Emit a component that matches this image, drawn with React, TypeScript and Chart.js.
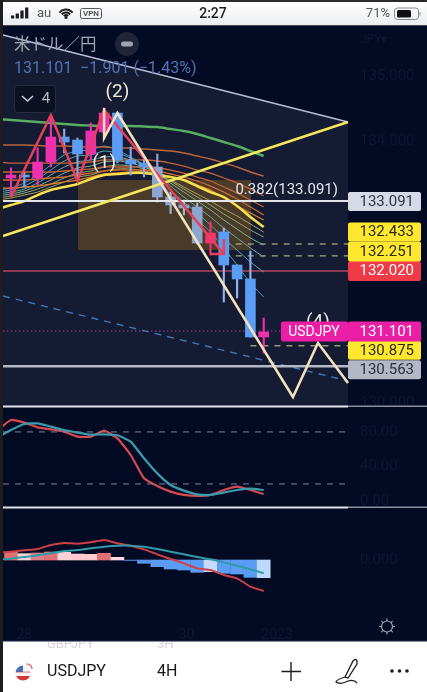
import React, { useEffect, useRef } from "react";
import { Chart, registerables } from "chart.js";

Chart.register(...registerables);

// ---------- data ----------
const barIndex = [0, 1, 2, 3, 4, 5, 6, 7, 8, 9, 10, 11, 12, 13, 14, 15, 16, 17, 18, 19];
const opens = [133.443, 133.489, 133.443, 133.688, 134.07, 134.024, 133.81, 134.147, 134.437, 133.718, 133.672, 133.611, 133.152, 133.03, 132.999, 132.448, 132.617, 132.112, 131.898, 131.01];
const closes = [133.489, 133.458, 133.688, 134.07, 133.994, 133.81, 134.162, 134.437, 133.718, 133.657, 133.611, 133.152, 133.03, 132.984, 132.448, 132.601, 132.112, 131.898, 131.01, 131.087];
const highs = [133.596, 133.535, 133.902, 134.376, 134.193, 134.055, 134.284, 134.514, 134.453, 133.917, 133.764, 133.81, 133.229, 133.106, 133.06, 132.77, 132.678, 132.112, 132.326, 131.301];
const lows = [133.152, 133.305, 133.336, 133.611, 133.825, 133.412, 133.718, 134.055, 133.672, 133.489, 133.458, 133.076, 132.9, 132.877, 132.433, 132.265, 131.546, 131.607, 131.01, 130.765];

const maIndex = [-1, 0, 1, 2, 3, 4, 5, 6, 7, 8, 9, 10, 11, 12, 13, 14, 15, 16, 17, 18, 19];
const maGreen = [134.345, 134.33, 134.315, 134.3, 134.284, 134.269, 134.254, 134.246, 134.238, 134.238, 134.238, 134.23, 134.223, 134.192, 134.162, 134.116, 134.055, 133.994, 133.933, 133.856, 133.779];
const maOrange1 = [133.947, 133.947, 133.947, 133.94, 133.932, 133.932, 133.925, 133.917, 133.917, 133.902, 133.902, 133.886, 133.871, 133.856, 133.825, 133.779, 133.733, 133.672, 133.611, 133.535, 133.473];
const maOrange2 = [133.688, 133.672, 133.672, 133.672, 133.672, 133.672, 133.672, 133.688, 133.718, 133.718, 133.718, 133.718, 133.703, 133.672, 133.626, 133.565, 133.519, 133.443, 133.366, 133.274, 133.167];
const maOrange3 = [133.535, 133.535, 133.535, 133.535, 133.535, 133.55, 133.565, 133.581, 133.611, 133.611, 133.611, 133.611, 133.596, 133.565, 133.519, 133.458, 133.397, 133.305, 133.213, 133.106, 132.999];
const maOrange4 = [133.412, 133.412, 133.412, 133.427, 133.443, 133.458, 133.489, 133.519, 133.55, 133.565, 133.565, 133.565, 133.55, 133.504, 133.458, 133.397, 133.32, 133.228, 133.121, 132.999, 132.877];
const maOrange5 = [133.29, 133.29, 133.305, 133.32, 133.351, 133.382, 133.412, 133.458, 133.504, 133.519, 133.535, 133.535, 133.519, 133.458, 133.412, 133.336, 133.259, 133.137, 133.014, 132.907, 132.8];
const maYellow = [132.968, 133.03, 133.091, 133.182, 133.259, 133.305, 133.351, 133.427, 133.489, 133.504, 133.519, 133.519, 133.489, 133.458, 133.412, 133.32, 133.228, 133.152, 133.014, 132.846, 132.693];
const maTeal1 = [133.259, 133.29, 133.366, 133.489, 133.642, 133.795, 133.856, 133.871, 133.932, 133.871, 133.764, 133.642, 133.458, 133.182, 132.984, 132.8, 132.616, 132.372, 132.112, 131.837, 131.622];
const maTeal2 = [133.228, 133.259, 133.32, 133.427, 133.565, 133.703, 133.779, 133.795, 133.856, 133.825, 133.749, 133.642, 133.489, 133.259, 133.075, 132.907, 132.724, 132.525, 132.341, 132.158, 132.005];
const maTeal3 = [133.198, 133.228, 133.274, 133.366, 133.489, 133.611, 133.688, 133.718, 133.764, 133.764, 133.718, 133.642, 133.519, 133.32, 133.152, 132.999, 132.846, 132.678, 132.525, 132.372, 132.234];
const maTeal4 = [133.167, 133.198, 133.244, 133.32, 133.412, 133.519, 133.596, 133.626, 133.688, 133.703, 133.672, 133.611, 133.519, 133.366, 133.228, 133.091, 132.953, 132.8, 132.662, 132.525, 132.418];
const maTeal5 = [133.137, 133.167, 133.213, 133.274, 133.351, 133.443, 133.519, 133.55, 133.611, 133.642, 133.626, 133.581, 133.504, 133.397, 133.274, 133.152, 133.03, 132.892, 132.77, 132.647, 132.54];
const maTeal6 = [133.106, 133.137, 133.182, 133.228, 133.305, 133.382, 133.458, 133.489, 133.55, 133.581, 133.581, 133.55, 133.489, 133.412, 133.305, 133.198, 133.091, 132.968, 132.861, 132.739, 132.616];

const waveRedX = [0, 3, 5, 7, 16];
const waveRedY = [133.152, 134.407, 133.397, 134.483, 132.28];
const arrowX = [15, 16, 16];
const arrowY = [132.28, 132.28, 132.509];
const waveCreamX = [7, 7, 8, 21.2, 23.08, 25.34];
const waveCreamY = [134.514, 134.055, 134.437, 130.092, 130.918, 130.306];
const trendX = [-0.6, 25.34];
const trendYellowY = [132.555, 134.299];
const trendGreyY = [135.631, 134.299];
const trendBlueY = [131.637, 130.337];
const boxX = [5.04, 18.05];
const boxTop = 133.412;
const boxBottom = 132.341;
const panelBottom = 129.955;

const fibLevel = 133.091;
const resistLevel = 132.02;
const lastPrice = 131.101;
const supportLevel = 130.563;
const dashUpper = 132.433;
const dashLower = 132.251;
const dashFloor = 130.875;

const rsiIndex = maIndex;
const rsiRed = [82.2, 93.8, 90.7, 85.3, 83, 80.3, 74.5, 74.5, 81.5, 72.6, 53.4, 26.5, 17.6, 11.1, 7.3, 6.1, 7.3, 13, 16.9, 13, 8.4];
const rsiTeal = [73.8, 82.2, 89.2, 89.9, 86.1, 82.2, 79.2, 76.8, 77.2, 76.1, 68.8, 49.6, 32.2, 18.8, 12.3, 8, 7.3, 10, 13, 14.5, 13];
const rsiLevels = [80, 20];

const macdHist = [0.0256, 0.0211, 0.0233, 0.0267, 0.0256, 0.02, 0.0189, 0.0222, 0.0089, -0.0022, -0.0111, -0.0222, -0.03, -0.0333, -0.0411, -0.0389, -0.0444, -0.0467, -0.0578, -0.0589];
const macdRed = [0.0244, 0.0278, 0.0322, 0.0367, 0.05, 0.0567, 0.0544, 0.0589, 0.0667, 0.0556, 0.0478, 0.0356, 0.0189, 0.0033, -0.0111, -0.0278, -0.0333, -0.05, -0.0611, -0.0889, -0.1033];
const macdTeal = [0.0022, 0.0044, 0.01, 0.0156, 0.0222, 0.03, 0.0333, 0.0389, 0.0444, 0.0478, 0.0478, 0.0444, 0.0367, 0.0278, 0.0189, 0.01, 0.0022, -0.0078, -0.0189, -0.0311, -0.0444];

const priceTicks = [135, 134, 130];
const rsiTicks = [80, 40, 0];
const macdTicks = [0];
const dateTickIndex = [1, 13.2, 20];
const dateTickLabels = ["28", "30", "2023"];

// ---------- styles ----------
const PINK = "#ee2fae";
const HOT = "#f5336f";
const BLUE = "#5b9df5";
const DIM = "#8aa7cf";
const bodyColors = [PINK, "#6aa0ee", PINK, PINK, BLUE, BLUE, PINK, PINK, BLUE, BLUE, BLUE, DIM, DIM, DIM, DIM, HOT, BLUE, BLUE, BLUE, PINK];
const wickColors = [PINK, "#7f9ee8", PINK, PINK, "#8fa4ee", "#8fa4d8", PINK, PINK, BLUE, "#8fa4ee", "#8fa4ee", "#8fa4d8", "#a5b4cc", "#a5b4cc", "#a5b4cc", HOT, "#8fb4ee", "#8fb4ee", "#8fb4ee", PINK];
const histColors = ["#e07078", "#ffd3d8", "#d98088", "#e07078", "#ffcfd6", "#ffc9d0", "#ffc9d0", "#e07078", "#ffd9dc", "#3f74c4", "#5b95e8", "#5b9df5", "#5b9df5", "#5b9df5", "#5b9df5", "#c5dcfa", "#5b9df5", "#5b9df5", "#5b9df5", "#bcd8fa"];
const BG = "#030a24";
const PANEL = "#141b32";
const FAINT = "#0f1634";
const UI = "Roboto, 'Noto Sans', sans-serif";
const CJK = "'Noto Sans CJK JP', 'Noto Sans', sans-serif";

const xy = (xs: number[], ys: number[]) => xs.map((x, i) => ({ x, y: ys[i] }));

function line(xs: number[], ys: number[], color: string, width: number, extra: any = {}) {
  return {
    type: "line",
    data: xy(xs, ys),
    borderColor: color,
    borderWidth: width,
    pointRadius: 0,
    fill: false,
    tension: 0,
    yAxisID: "y",
    ...extra,
  };
}

function buildDatasets() {
  const ma = { tension: 0.25 };
  const list: any[] = [
    line(trendX, trendGreyY, "#b9bdd6", 1.5, { fill: { value: panelBottom }, backgroundColor: PANEL }),
    line(boxX, [boxTop, boxTop], "rgba(0,0,0,0)", 0, { fill: { value: boxBottom }, backgroundColor: "#4a3a2a" }),
    line(trendX, trendBlueY, "#3f78b8", 1.4, { borderDash: [7, 6] }),
    line(trendX, [lastPrice, lastPrice], "#a04a90", 1, { borderDash: [1.5, 2.5] }),
    line(trendX, [resistLevel, resistLevel], "#b4445e", 1.5),
    line(trendX, [supportLevel, supportLevel], "#b5b9c6", 2.5),
    line([16, 25.34], [dashUpper, dashUpper], "#c9cf8c", 1, { borderDash: [6, 6] }),
    line([16, 25.34], [dashLower, dashLower], "#c9cf8c", 1, { borderDash: [6, 6] }),
    line([18, 25.34], [dashFloor, dashFloor], "#d8d8a0", 1, { borderDash: [6, 6] }),
    line(maIndex, maTeal1, "#3aa0bc", 1, ma),
    line(maIndex, maTeal2, "#4ba9b4", 1, ma),
    line(maIndex, maTeal3, "#62b0a0", 1, ma),
    line(maIndex, maTeal4, "#7bb68c", 1, ma),
    line(maIndex, maTeal5, "#90ae70", 1, ma),
    line(maIndex, maTeal6, "#a8a852", 1, ma),
    line(maIndex, maOrange1, "#b8663c", 1.5, ma),
    line(maIndex, maOrange2, "#bf6438", 1.3, ma),
    line(maIndex, maOrange3, "#c96434", 1.3, ma),
    line(maIndex, maOrange4, "#d26a30", 1.3, ma),
    line(maIndex, maOrange5, "#e07c2c", 1.3, ma),
    line(maIndex, maGreen, "#58ad62", 2.5, ma),
    line(maIndex, maYellow, "#fbe04a", 2.5, ma),
    {
      type: "bar",
      data: barIndex.map((x, i) => ({ x, y: [lows[i], highs[i]] })),
      backgroundColor: wickColors,
      barThickness: 1.5,
      grouped: false,
      yAxisID: "y",
    },
    {
      type: "bar",
      data: barIndex.map((x, i) => ({ x, y: [opens[i], closes[i]] })),
      backgroundColor: bodyColors,
      barThickness: 10,
      grouped: false,
      yAxisID: "y",
    },
    line(trendX, [fibLevel, fibLevel], "#e4e6ee", 2.2),
    line(trendX, trendYellowY, "#f5e85e", 2.5),
    line(waveRedX, waveRedY, "#e8405a", 2.5),
    line(arrowX, arrowY, "#e8405a", 2.5),
    line(waveCreamX, waveCreamY, "#f5e2bd", 2.5),
    line(rsiIndex, rsiRed, "#d84a52", 2.2, { yAxisID: "yR", tension: 0.15 }),
    line(rsiIndex, rsiTeal, "#3a9cac", 2.2, { yAxisID: "yR", tension: 0.15 }),
    line(trendX, [rsiLevels[0], rsiLevels[0]], "#7f8494", 1, { yAxisID: "yR", borderDash: [6, 6] }),
    line(trendX, [rsiLevels[1], rsiLevels[1]], "#7f8494", 1, { yAxisID: "yR", borderDash: [6, 6] }),
    {
      type: "bar",
      data: barIndex.map((x, i) => ({ x, y: macdHist[i] })),
      backgroundColor: histColors,
      barThickness: 13,
      grouped: false,
      yAxisID: "yM",
    },
    line(maIndex, macdRed, "#cf4048", 2, { yAxisID: "yM", tension: 0.15 }),
    line(maIndex, macdTeal, "#2f9aa8", 2, { yAxisID: "yM", tension: 0.15 }),
  ];
  list.forEach((d, k) => (d.order = -k));
  return list;
}

function text(ctx: CanvasRenderingContext2D, s: string, x: number, y: number, font: string, color: string, align: CanvasTextAlign = "left") {
  ctx.font = font;
  ctx.fillStyle = color;
  ctx.textAlign = align;
  ctx.textBaseline = "middle";
  ctx.fillText(s, x, y);
}

function roundRect(ctx: CanvasRenderingContext2D, x: number, y: number, w: number, h: number, r: number, color: string) {
  ctx.beginPath();
  ctx.roundRect(x, y, w, h, r);
  ctx.fillStyle = color;
  ctx.fill();
}

const backdrop = {
  id: "backdrop",
  beforeDraw(chart: any) {
    const ctx = chart.ctx;
    ctx.save();
    ctx.fillStyle = BG;
    ctx.fillRect(0, 0, 427, 692);
    ctx.restore();
  },
};

function drawPriceTags(ctx: CanvasRenderingContext2D, yS: any) {
  const tagFont = `15px ${UI}`;
  const tags = [
    { v: supportLevel, dy: 3.5, h: 19, bg: "#b4b8c4", fg: "#2c2f3a" },
    { v: dashFloor, dy: 4.5, h: 19, bg: "#fde82f", fg: "#2c2a10" },
    { v: lastPrice, dy: 0.5, h: 20, bg: "#ea1fa6", fg: "#ffffff" },
    { v: resistLevel, dy: 0, h: 20, bg: "#ef3a48", fg: "#ffffff" },
    { v: dashLower, dy: -4.5, h: 20, bg: "#fde82f", fg: "#2c2a10" },
    { v: dashUpper, dy: -12, h: 19, bg: "#fde82f", fg: "#2c2a10" },
    { v: fibLevel, dy: 0.5, h: 19, bg: "#d6dae6", fg: "#30333f" },
  ];
  tags.forEach((t) => {
    const c = yS.getPixelForValue(t.v) + t.dy;
    roundRect(ctx, 348, c - t.h / 2, 73, t.h, 2, t.bg);
    text(ctx, t.v.toFixed(3), 414, c + 0.5, tagFont, t.fg, "right");
  });
  const c = yS.getPixelForValue(lastPrice) + 0.5;
  roundRect(ctx, 281, c - 10, 67, 20, 2, "#ea1fa6");
  text(ctx, "USDJPY", 314, c + 0.5, `14px ${UI}`, "#ffffff", "center");
}

const overlays = {
  id: "overlays",
  afterDatasetsDraw(chart: any) {
    const ctx: CanvasRenderingContext2D = chart.ctx;
    const { x: xS, y: yS } = chart.scales;
    ctx.save();

    // wave labels; (4) sits behind the tags
    const labelFont = `19px ${UI}`;
    text(ctx, "(4)", xS.getPixelForValue(23.08), yS.getPixelForValue(131.24), labelFont, "#e8e8e8", "center");
    text(ctx, "(2)", xS.getPixelForValue(8), yS.getPixelForValue(134.76), labelFont, "#f0ead6", "center");
    text(ctx, "(1)", xS.getPixelForValue(7), yS.getPixelForValue(133.672), labelFont, "#f0ead6", "center");
    text(ctx, "0.382(133.091)", 338, 190.5, `15px ${UI}`, "#e4e6ee", "right");

    drawPriceTags(ctx, yS);

    ctx.fillStyle = "#e4e6ee";
    ctx.fillRect(3, 405.5, 345, 2);
    ctx.fillRect(3, 506.5, 345, 2);
    ctx.fillStyle = "#8c8f9c";
    ctx.fillRect(348, 405.5, 79, 1.5);
    ctx.fillRect(348, 506.5, 79, 1.5);

    text(ctx, "JPY▾", 360, 40, `12px ${UI}`, FAINT);

    // pane header
    text(ctx, "米ドル／円", 14, 44, `16.5px ${CJK}`, "#a0a5b4");
    ctx.beginPath();
    ctx.arc(127, 44, 12, 0, Math.PI * 2);
    ctx.fillStyle = "#1f2438";
    ctx.fill();
    roundRect(ctx, 121, 41.5, 12, 5, 2.5, "#9ea3b2");
    text(ctx, "131.101  −1.901 (−1.43%)", 14, 69, `16px ${UI}`, "#5273b4");

    roundRect(ctx, 14, 85, 42, 28, 4, "#262b3e");
    roundRect(ctx, 15, 86, 40, 26, 3, "#0b1022");
    ctx.strokeStyle = "#c8ccd6";
    ctx.lineWidth = 1.6;
    ctx.beginPath();
    ctx.moveTo(22, 96);
    ctx.lineTo(27.5, 101);
    ctx.lineTo(33, 96);
    ctx.stroke();
    text(ctx, "4", 46, 99, `15px ${UI}`, "#b4b8c2", "center");

    // gear
    ctx.strokeStyle = "#9da2ae";
    ctx.lineWidth = 1.2;
    ctx.beginPath();
    ctx.arc(387, 626.5, 5.5, 0, Math.PI * 2);
    ctx.stroke();
    for (let k = 0; k < 8; k++) {
      const a = (k * Math.PI) / 4;
      ctx.beginPath();
      ctx.moveTo(387 + Math.cos(a) * 5.5, 626.5 + Math.sin(a) * 5.5);
      ctx.lineTo(387 + Math.cos(a) * 8, 626.5 + Math.sin(a) * 8);
      ctx.stroke();
    }
    ctx.restore();
  },
  afterDraw(chart: any) {
    const ctx: CanvasRenderingContext2D = chart.ctx;
    ctx.save();

    // status bar
    const g = ctx.createLinearGradient(0, 2, 0, 25);
    g.addColorStop(0, "#ffffff");
    g.addColorStop(1, "#ecedef");
    ctx.fillStyle = g;
    ctx.fillRect(0, 2, 427, 23);
    ctx.fillStyle = "#2a2a2c";
    ctx.fillRect(0, 0, 427, 2);
    ctx.fillStyle = "#4a4c55";
    ctx.fillRect(0, 25, 427, 1);
    [3, 5, 8, 11].forEach((h, k) => {
      ctx.fillStyle = "#1c1c1e";
      ctx.fillRect(11 + k * 4.7, 18.5 - h, 3.2, h);
    });
    text(ctx, "au", 37, 14, `13px ${UI}`, "#55575c");
    ctx.strokeStyle = "#1c1c1e";
    ctx.lineWidth = 2;
    [8.5, 5.5, 2.8].forEach((r) => {
      ctx.beginPath();
      ctx.arc(66, 18, r, Math.PI * 1.22, Math.PI * 1.78);
      ctx.stroke();
    });
    ctx.fillStyle = "#1c1c1e";
    ctx.beginPath();
    ctx.arc(66, 17.5, 1.5, 0, Math.PI * 2);
    ctx.fill();
    ctx.strokeStyle = "#55575c";
    ctx.lineWidth = 1;
    ctx.beginPath();
    ctx.roundRect(80.5, 8.5, 21, 10, 2);
    ctx.stroke();
    text(ctx, "VPN", 91, 13.5, `bold 8px ${UI}`, "#55575c", "center");
    text(ctx, "2:27", 213, 14, `500 14px ${UI}`, "#1c1c1e", "center");
    text(ctx, "71%", 390, 14, `13px ${UI}`, "#55575c", "right");
    ctx.strokeStyle = "#8a8c90";
    ctx.beginPath();
    ctx.roundRect(394.5, 8, 24, 11.5, 3);
    ctx.stroke();
    roundRect(ctx, 397, 10, 14, 7.5, 1.5, "#101012");
    ctx.fillStyle = "#8a8c90";
    ctx.fillRect(419.5, 12, 1, 3.5);

    // footer
    ctx.fillStyle = "#23294a";
    ctx.fillRect(0, 640.5, 427, 1);
    ctx.fillStyle = "#ffffff";
    ctx.fillRect(0, 641.5, 427, 51);
    ctx.save();
    ctx.beginPath();
    ctx.rect(0, 642, 427, 50);
    ctx.clip();
    text(ctx, "GBPJPY", 47, 645, `13px ${UI}`, "#d5d5d8");
    text(ctx, "3H", 157, 645, `13px ${UI}`, "#d5d5d8");
    ctx.restore();
    ctx.beginPath();
    ctx.arc(23, 673, 7.5, 0, Math.PI * 2);
    ctx.fillStyle = "#f4f4f6";
    ctx.fill();
    ctx.save();
    ctx.clip();
    ctx.fillStyle = "#d8343c";
    ctx.fillRect(15, 676, 16, 5);
    ctx.fillStyle = "#e68a90";
    ctx.fillRect(15, 671.5, 16, 1.2);
    ctx.fillStyle = "#4a6fb0";
    ctx.fillRect(15, 665, 8, 7);
    ctx.restore();
    ctx.strokeStyle = "#e25a5a";
    ctx.lineWidth = 1.2;
    ctx.beginPath();
    ctx.arc(27, 669, 5, -Math.PI * 0.55, 0);
    ctx.stroke();
    text(ctx, "USDJPY", 47, 671.5, `16px ${UI}`, "#16171c");
    text(ctx, "4H", 157, 671.5, `16px ${UI}`, "#16171c");
    ctx.strokeStyle = "#1c1c20";
    ctx.lineWidth = 1.4;
    ctx.beginPath();
    ctx.moveTo(281.5, 671.5);
    ctx.lineTo(301, 671.5);
    ctx.moveTo(291, 662);
    ctx.lineTo(291, 681);
    ctx.stroke();
    // pen
    ctx.lineWidth = 1.3;
    ctx.beginPath();
    ctx.moveTo(345, 677);
    ctx.lineTo(353, 661);
    ctx.quadraticCurveTo(356, 658, 357, 661);
    ctx.lineTo(357, 664);
    ctx.lineTo(348, 678);
    ctx.closePath();
    ctx.moveTo(345, 677);
    ctx.quadraticCurveTo(336, 680, 336, 682);
    ctx.quadraticCurveTo(340, 685, 348, 681);
    ctx.quadraticCurveTo(354, 679, 357, 683);
    ctx.stroke();
    ctx.fillStyle = "#1c1c20";
    [392, 399.5, 407].forEach((x) => {
      ctx.beginPath();
      ctx.arc(x, 671, 1.8, 0, Math.PI * 2);
      ctx.fill();
    });

    // screenshot edge
    ctx.fillStyle = "#1d1e22";
    ctx.fillRect(0, 0, 3, 692);
    ctx.restore();
  },
};

function yAxis(min: number, max: number, values: number[], digits: number) {
  return {
    type: "linear",
    position: "left",
    min,
    max,
    display: true,
    offset: false,
    grid: { display: false },
    border: { display: false },
    afterBuildTicks: (s: any) => {
      s.ticks = values.map((value) => ({ value }));
    },
    afterFit: (s: any) => {
      s.width = 0;
      s.paddingTop = 0;
      s.paddingBottom = 0;
    },
    ticks: {
      mirror: true,
      padding: 360,
      color: FAINT,
      font: { family: UI, size: 15 },
      callback: (v: number) => Number(v).toFixed(digits),
    },
  };
}

export default function App() {
  const ref = useRef<HTMLCanvasElement | null>(null);
  useEffect(() => {
    if (!ref.current) return;
    const chart = new Chart(ref.current, {
      data: { datasets: buildDatasets() },
      plugins: [backdrop, overlays],
      options: {
        responsive: false,
        animation: false,
        layout: { padding: 0, autoPadding: false },
        plugins: { legend: { display: false }, tooltip: { enabled: false } },
        scales: {
          x: {
            type: "linear",
            min: -0.827,
            max: 31.278,
            offset: false,
            grid: { display: false },
            border: { display: false },
            afterFit: (s: any) => {
              s.height = 80;
              s.paddingLeft = 0;
              s.paddingRight = 0;
            },
            afterBuildTicks: (s: any) => {
              s.ticks = dateTickIndex.map((value) => ({ value }));
            },
            ticks: {
              padding: 7,
              color: FAINT,
              maxRotation: 0,
              autoSkip: false,
              font: { family: UI, size: 14 },
              callback: (v: number) => dateTickLabels[dateTickIndex.indexOf(v)],
            },
          },
          y: yAxis(126.8028, 136.1663, priceTicks, 3),
          yR: yAxis(-127.7, 578.2, rsiTicks, 2),
          yM: yAxis(-0.1733, 1.8667, macdTicks, 3),
        },
      },
    } as any);
    return () => chart.destroy();
  }, []);
  return (
    <>
      <style>{`html,body{margin:0;padding:0;background:#030a24}`}</style>
      <canvas ref={ref} width={427} height={692} style={{ display: "block" }} />
    </>
  );
}
